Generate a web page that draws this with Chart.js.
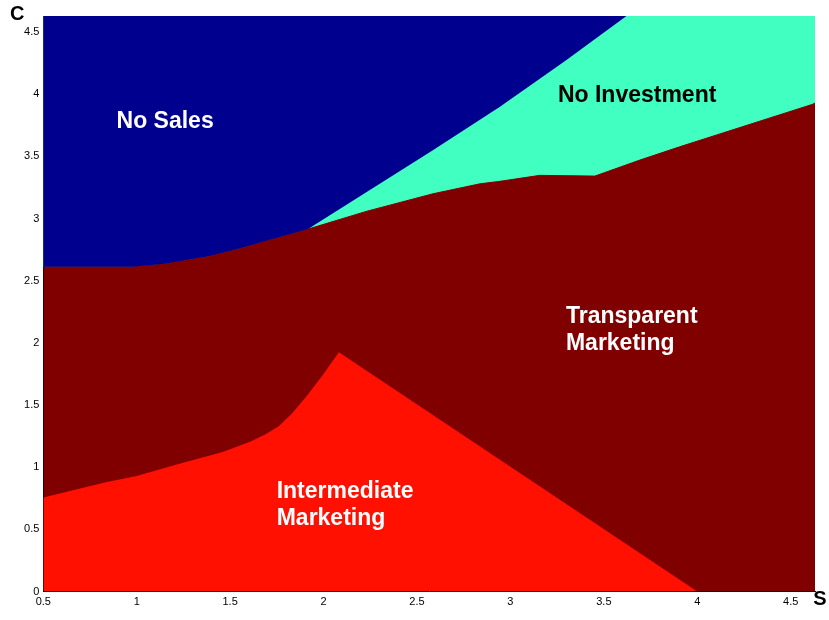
<!DOCTYPE html>
<html>
<head>
<meta charset="utf-8">
<script src="https://cdn.jsdelivr.net/npm/chart.js@4/dist/chart.umd.min.js"></script>
<style>
  body { margin: 0; background: #fff; }
  #chart { display: block; }
</style>
</head>
<body>
<canvas id="chart" width="829" height="620"></canvas>
<script>
// region boundaries (S on x, C on y)
const intermS = [0.5, 0.84, 1.0, 1.2, 1.46, 1.61, 1.69, 1.76, 1.83, 1.909, 1.998, 2.082, 4.0];
const intermC = [0.757, 0.881, 0.93, 1.015, 1.122, 1.207, 1.265, 1.33, 1.43, 1.57, 1.745, 1.924, 0];

const transpS = [0.5, 0.98, 1.14, 1.39, 1.57, 1.68, 1.917, 2.233, 2.586, 2.837, 2.944, 3.158, 3.452, 3.693, 3.906, 4.618, 4.63];
const transpC = [2.612, 2.612, 2.634, 2.70, 2.767, 2.815, 2.916, 3.06, 3.20, 3.28, 3.30, 3.348, 3.342, 3.471, 3.578, 3.92, 3.93];

// blue / green split (No Sales vs No Investment)
const splitS = [1.917, 2.587, 2.944, 3.30, 3.621, 4.63];
const splitC = [2.916, 3.552, 3.90, 4.276, 4.63, 4.63];

const xTicks = [0.5, 1, 1.5, 2, 2.5, 3, 3.5, 4, 4.5];
const yTicks = [0, 0.5, 1, 1.5, 2, 2.5, 3, 3.5, 4, 4.5];

const regionLabels = [
  { lines: ['No Sales'], s: 0.892, c: 3.726, color: '#fff' },
  { lines: ['No Investment'], s: 3.254, c: 3.94, color: '#000' },
  { lines: ['Transparent', 'Marketing'], s: 3.297, c: 2.158, color: '#fff' },
  { lines: ['Intermediate', 'Marketing'], s: 1.749, c: 0.755, color: '#fff' }
];

function pts(xs, ys) {
  return xs.map(function(x, i) { return { x: x, y: ys[i] }; });
}

// no-sales line follows transparent boundary up to the junction, then the split line
const noSalesPts = pts(transpS, transpC).filter(function(p) { return p.x < 1.917; })
  .concat(pts(splitS, splitC));

const labelPlugin = {
  id: 'regionLabels',
  afterDatasetsDraw: function(chart) {
    const ctx = chart.ctx;
    const xs = chart.scales.x, ys = chart.scales.y;
    ctx.save();
    ctx.font = 'bold 23px "Liberation Sans", Arial, sans-serif';
    ctx.textAlign = 'left';
    ctx.textBaseline = 'alphabetic';
    regionLabels.forEach(function(l) {
      ctx.fillStyle = l.color;
      l.lines.forEach(function(t, i) {
        ctx.fillText(t, xs.getPixelForValue(l.s), ys.getPixelForValue(l.c) + i * 27);
      });
    });
    // axis letters
    const a = chart.chartArea;
    ctx.fillStyle = '#000';
    ctx.font = 'bold 20px "Liberation Sans", Arial, sans-serif';
    ctx.textAlign = 'center';
    ctx.textBaseline = 'middle';
    ctx.fillText('C', a.left - 26, a.top - 2);
    ctx.fillText('S', a.right + 5, a.bottom + 8);
    ctx.restore();
  }
};

const tickFont = { family: '"Liberation Sans", Arial, sans-serif', size: 11 };
const plainTick = function(v) { return String(v); };

const ctx = document.getElementById('chart').getContext('2d');
new Chart(ctx, {
  type: 'line',
  data: {
    datasets: [
      {
        label: 'Intermediate Marketing',
        data: pts(intermS, intermC),
        backgroundColor: '#FF1000',
        borderColor: '#FF1000',
        borderWidth: 0,
        fill: 'origin'
      },
      {
        label: 'No Sales',
        data: noSalesPts,
        backgroundColor: '#00008F',
        borderColor: '#00008F',
        borderWidth: 0,
        fill: 'end'
      },
      {
        label: 'Transparent Marketing',
        data: pts(transpS, transpC),
        backgroundColor: '#800000',
        borderColor: '#800000',
        borderWidth: 1,
        fill: 'origin'
      },
      {
        label: 'No Investment',
        data: pts(transpS, transpC),
        backgroundColor: '#40FFC0',
        borderColor: '#40FFC0',
        borderWidth: 0,
        fill: 'end'
      }
    ]
  },
  options: {
    responsive: false,
    animation: false,
    events: [],
    elements: { point: { radius: 0 }, line: { tension: 0 } },
    layout: { padding: { top: 16, right: 14, left: 0, bottom: 0 } },
    plugins: { legend: { display: false }, tooltip: { enabled: false } },
    scales: {
      x: {
        type: 'linear',
        min: 0.5,
        max: 4.63,
        afterBuildTicks: function(axis) { axis.ticks = xTicks.map(function(v) { return { value: v }; }); },
        afterFit: function(axis) { axis.height = 28.5; },
        grid: { display: false, drawTicks: false },
        border: { display: true, color: '#000', width: 1 },
        ticks: { padding: 4, maxRotation: 0, autoSkip: false, color: '#000', font: tickFont, callback: plainTick }
      },
      y: {
        type: 'linear',
        min: 0,
        max: 4.63,
        afterBuildTicks: function(axis) { axis.ticks = yTicks.map(function(v) { return { value: v }; }); },
        afterFit: function(axis) { axis.width = 43.3; },
        grid: { display: false, drawTicks: false },
        border: { display: true, color: '#000', width: 1 },
        ticks: { padding: 4, autoSkip: false, color: '#000', font: tickFont, callback: plainTick }
      }
    }
  },
  plugins: [labelPlugin]
});
</script>
</body>
</html>
